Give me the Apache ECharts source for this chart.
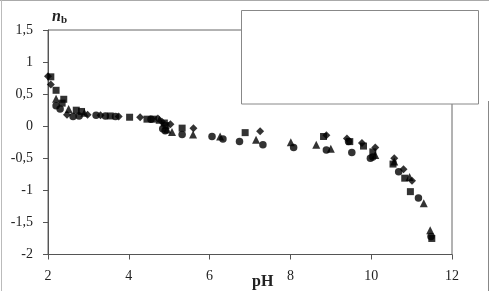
<!DOCTYPE html>
<html><head><meta charset="utf-8">
<script src="https://cdn.jsdelivr.net/npm/echarts@6/dist/echarts.min.js"></script>
<style>html,body{margin:0;padding:0;background:#fff}#c{width:489px;height:291px}</style>
</head><body><div id="c"></div>
<script>
var xTicks = [2, 4, 6, 8, 10, 12];
var yTicks = [-2, -1.5, -1, -0.5, 0, 0.5, 1, 1.5];
var diamondPts = [[2.0,0.78],[2.07,0.65],[2.47,0.18],[2.98,0.18],[3.3,0.17],[3.75,0.15],[4.28,0.14],[4.72,0.12],[4.82,0.07],[5.03,0.03],[5.6,-0.03],[7.25,-0.08],[8.89,-0.14],[9.4,-0.19],[9.77,-0.26],[10.1,-0.33],[10.57,-0.5],[10.8,-0.67],[11.01,-0.85]];
var squarePts = [[2.07,0.77],[2.2,0.56],[2.35,0.36],[2.39,0.42],[2.7,0.25],[2.83,0.23],[3.54,0.16],[4.02,0.14],[4.45,0.11],[4.61,0.11],[4.88,0.05],[4.92,0.01],[5.32,-0.03],[6.88,-0.1],[8.82,-0.16],[9.47,-0.24],[9.81,-0.31],[10.04,-0.4],[10.54,-0.59],[10.83,-0.81],[10.97,-1.02],[11.5,-1.75]];
var trianglePts = [[2.2,0.43],[2.51,0.27],[2.9,0.21],[4.76,0.1],[4.95,-0.05],[5.07,-0.09],[5.59,-0.13],[6.26,-0.16],[7.15,-0.21],[8.01,-0.25],[8.64,-0.29],[9.0,-0.35],[10.1,-0.45],[10.57,-0.55],[10.95,-0.79],[11.3,-1.2],[11.46,-1.62]];
var circlePts = [[2.2,0.32],[2.3,0.27],[2.62,0.15],[2.77,0.16],[3.19,0.17],[3.42,0.16],[3.67,0.15],[4.55,0.11],[4.84,-0.04],[4.9,-0.07],[5.32,-0.13],[6.06,-0.16],[6.33,-0.2],[6.74,-0.24],[7.32,-0.29],[8.08,-0.33],[8.89,-0.37],[9.44,-0.24],[9.52,-0.41],[9.98,-0.5],[10.04,-0.48],[10.68,-0.71],[11.17,-1.12],[11.48,-1.72]];

var chart = echarts.init(document.getElementById('c'), null, {renderer: 'canvas'});
var font = '"Liberation Serif", "DejaVu Serif", serif';
function mk(name, sym, size, data) {
  return {name: name, type: 'scatter', symbol: sym, symbolSize: size, data: data,
    itemStyle: {color: '#000'}, z: 3};
}
chart.setOption({
  animation: false,
  backgroundColor: '#fff',
  grid: {left: 48, right: 37, top: 30, bottom: 36.5, show: true, borderColor: '#666', borderWidth: 1, backgroundColor: 'transparent'},
  xAxis: {type: 'value', min: xTicks[0], max: xTicks[xTicks.length-1], interval: 2,
    axisLine: {show: true, onZero: false, lineStyle: {color: '#555', width: 1}},
    axisTick: {show: true, length: 5, lineStyle: {color: '#555'}},
    splitLine: {show: false},
    axisLabel: {color: '#222', fontFamily: font, fontSize: 14, margin: 15}},
  yAxis: {type: 'value', min: yTicks[0], max: yTicks[yTicks.length-1], interval: 0.5,
    axisLine: {show: true, onZero: false, lineStyle: {color: '#555', width: 1}},
    axisTick: {show: true, length: 5, lineStyle: {color: '#555'}},
    splitLine: {show: false},
    axisLabel: {color: '#222', fontFamily: font, fontSize: 14, margin: 15,
      formatter: function (v) { return String(v).replace('.', ','); }}},
  series: [
    mk('diamond', 'diamond', 8, diamondPts),
    mk('square', 'rect', 7, squarePts),
    mk('triangle', 'triangle', 8, trianglePts),
    mk('circle', 'circle', 7.5, circlePts)
  ],
  graphic: [
    {type: 'rect', shape: {x: 241.5, y: 10.5, width: 237, height: 93.5}, style: {fill: '#fff', stroke: '#888', lineWidth: 1}, z: 100},
    {type: 'line', shape: {x1: 0, y1: 0.5, x2: 489, y2: 0.5}, style: {stroke: '#aaa', lineWidth: 1}, z: 100},
    {type: 'line', shape: {x1: 1.5, y1: 0, x2: 1.5, y2: 291}, style: {stroke: '#bbb', lineWidth: 1}, z: 100},
    {type: 'line', shape: {x1: 488.5, y1: 101, x2: 488.5, y2: 291}, style: {stroke: '#888', lineWidth: 1}, z: 100},
    {type: 'text', left: 52, top: 9, z: 100, style: {text: '{n|n}{b|b}', rich: {
      n: {fontFamily: font, fontSize: 16, fontStyle: 'italic', fontWeight: 'bold', fill: '#222'},
      b: {fontFamily: font, fontSize: 11, fontWeight: 'bold', fill: '#222', verticalAlign: 'bottom', padding: [6, 0, 0, 0]}
    }}},
    {type: 'text', left: 252, top: 274, z: 100, style: {text: 'pH', fontFamily: font, fontSize: 16, fontWeight: 'bold', fill: '#222'}}
  ]
});
</script></body></html>
